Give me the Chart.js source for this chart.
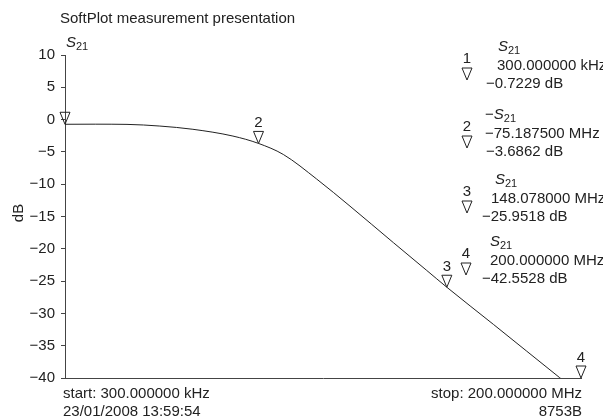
<!DOCTYPE html>
<html>
<head>
<meta charset="utf-8">
<script src="https://cdn.jsdelivr.net/npm/chart.js@4/dist/chart.umd.min.js"></script>
<style>
  html, body { margin: 0; padding: 0; background: #fff; }
  #plot { display: block; }
</style>
</head>
<body>
<canvas id="plot" width="603" height="418"></canvas>
<script>
// Trace data (frequency in MHz, |S21| in dB)
const freqMHz = [0.3, 12, 24.3, 37, 49.8, 65.3, 75.1875, 84.8, 97.7, 110.6, 127.4, 140.3, 148.078, 166.1, 179.0, 191.6, 200];
const s21Db = [-0.7229, -0.71, -0.74, -1.0, -1.5, -2.55, -3.6862, -5.4, -9.2, -13.4, -19.05, -23.35, -25.9518, -31.7, -35.85, -39.9, -42.5528];

// Y axis ticks
const yTicks = [10, 5, 0, -5, -10, -15, -20, -25, -30, -35, -40];

// Markers
const markerIds = ['1', '2', '3', '4'];
const markerFreqMHz = [0.3, 75.1875, 148.078, 200];
const markerDb = [-0.7229, -3.6862, -25.9518, -42.5528];
const markerFreqText = ['300.000000 kHz', '\u221275.187500 MHz', '148.078000 MHz', '200.000000 MHz'];
const markerDbText = ['\u22120.7229 dB', '\u22123.6862 dB', '\u221225.9518 dB', '\u221242.5528 dB'];
const markerSign = ['', '\u2212', '', ''];

const FONT = '"Liberation Sans", Arial, Helvetica, sans-serif';
const INK = '#222';

function minus(v) {
    return v < 0 ? '\u2212' + Math.abs(v) : String(v);
}

// small open triangle pointing down, tip at (x, y)
function triangle(ctx, x, y) {
    ctx.beginPath();
    ctx.moveTo(x - 5, y - 12);
    ctx.lineTo(x + 5, y - 12);
    ctx.lineTo(x, y);
    ctx.closePath();
    ctx.stroke();
}

// italic S with subscript 21
function s21(ctx, x, y, sign) {
    ctx.textAlign = 'left';
    ctx.font = '15px ' + FONT;
    let cx = x;
    if (sign) {
        ctx.fillText(sign, cx, y);
        cx += ctx.measureText(sign).width;
    }
    ctx.font = 'italic 15px ' + FONT;
    ctx.fillText('S', cx, y);
    cx += ctx.measureText('S').width;
    ctx.font = '11px ' + FONT;
    ctx.fillText('21', cx, y + 3);
}

const overlay = {
    id: 'overlay',
    afterDraw(chart) {
        const ctx = chart.ctx;
        const xs = chart.scales.x;
        const ys = chart.scales.y;
        ctx.save();
        ctx.fillStyle = INK;
        ctx.strokeStyle = INK;
        ctx.lineWidth = 1;
        ctx.textBaseline = 'alphabetic';

        // title and header
        ctx.font = '15px ' + FONT;
        ctx.textAlign = 'left';
        ctx.fillText('SoftPlot measurement presentation', 60, 23);
        s21(ctx, 66, 47, '');

        // y title
        ctx.save();
        ctx.translate(23, 213);
        ctx.rotate(-Math.PI / 2);
        ctx.font = '15px ' + FONT;
        ctx.textAlign = 'center';
        ctx.fillText('dB', 0, 0);
        ctx.restore();

        // markers on the trace
        ctx.font = '15px ' + FONT;
        ctx.textAlign = 'center';
        markerFreqMHz.forEach((f, i) => {
            const px = xs.getPixelForValue(f);
            const py = ys.getPixelForValue(Math.max(markerDb[i], ys.min));
            triangle(ctx, px, py);
            if (i > 0) ctx.fillText(markerIds[i], px, py - 16);
        });

        // marker readout blocks on the right
        const blockTop = [51, 119, 184, 246];
        const sX = [498, 485, 495, 490];
        const fX = [497, 485, 491, 490];
        const dX = [486, 486, 482, 482];
        const idX = [467, 467, 467, 466];
        markerIds.forEach((id, i) => {
            const b = blockTop[i];
            ctx.font = '15px ' + FONT;
            ctx.textAlign = 'center';
            ctx.fillText(id, idX[i], b + 12);
            triangle(ctx, idX[i], b + 29);
            s21(ctx, sX[i], b, markerSign[i]);
            ctx.font = '15px ' + FONT;
            ctx.textAlign = 'left';
            ctx.fillText(markerFreqText[i], fX[i], b + 19);
            ctx.fillText(markerDbText[i], dX[i], b + 37);
        });

        // footer
        ctx.font = '15px ' + FONT;
        ctx.textAlign = 'left';
        ctx.fillText('start: 300.000000 kHz', 63, 398);
        ctx.fillText('23/01/2008 13:59:54', 63, 416);
        ctx.textAlign = 'right';
        ctx.fillText('stop: 200.000000 MHz', 582, 398);
        ctx.fillText('8753B', 582, 416);
        ctx.restore();
    }
};

new Chart(document.getElementById('plot'), {
    type: 'line',
    data: {
        datasets: [{
            data: freqMHz.map((f, i) => ({ x: f, y: s21Db[i] })),
            borderColor: INK,
            borderWidth: 1,
            pointRadius: 0,
            fill: false,
            cubicInterpolationMode: 'monotone'
        }]
    },
    options: {
        responsive: false,
        animation: false,
        devicePixelRatio: 1,
        layout: { padding: { top: 55, right: 22, bottom: 40, left: 0 } },
        plugins: {
            legend: { display: false },
            tooltip: { enabled: false }
        },
        scales: {
            x: {
                type: 'linear',
                min: freqMHz[0],
                max: freqMHz[freqMHz.length - 1],
                grid: { display: false },
                border: { display: true, color: '#444', width: 1 },
                ticks: { display: false },
                afterFit(scale) { scale.height = 0; }
            },
            y: {
                min: yTicks[yTicks.length - 1],
                max: yTicks[0],
                afterBuildTicks(scale) { scale.ticks = yTicks.map(v => ({ value: v })); },
                grid: { display: true, drawOnChartArea: false, drawTicks: true, tickLength: 4, color: '#444' },
                border: { display: true, color: '#444', width: 1 },
                ticks: {
                    padding: 6,
                    color: INK,
                    font: { family: FONT, size: 15 },
                    callback: v => minus(v)
                },
                afterFit(scale) { scale.width = 65; }
            }
        }
    },
    plugins: [overlay]
});
</script>
</body>
</html>
